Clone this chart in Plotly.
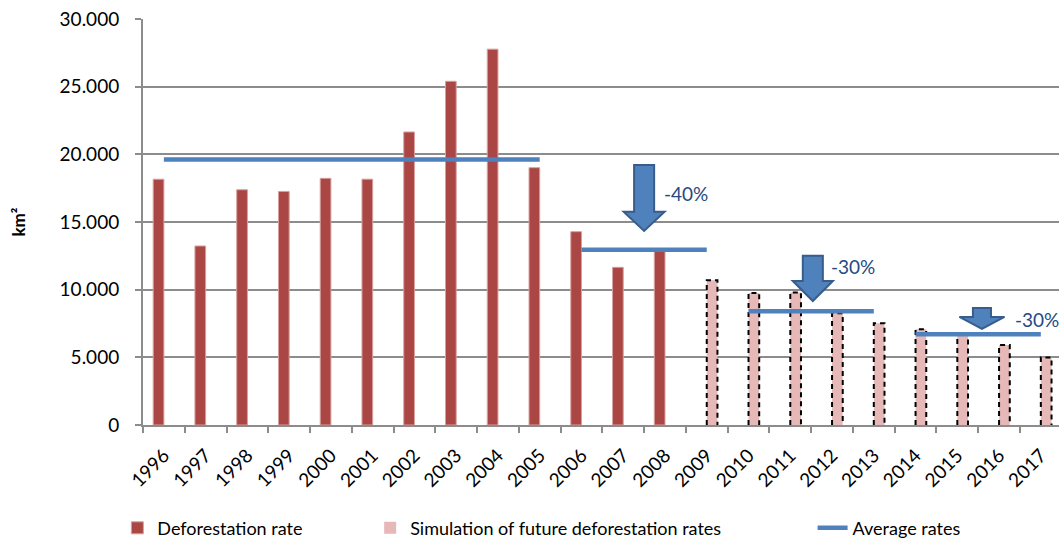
import plotly.graph_objects as go

# --- data (km2 per year) ---
years = list(range(1996, 2018))
observed_years = list(range(1996, 2009))
observed_km2 = [18161, 13227, 17383, 17259, 18226, 18165, 21651,
                25396, 27772, 19014, 14286, 11651, 12911]
sim_years = list(range(2009, 2018))
sim_km2 = [10700, 9760, 9790, 8250, 7520, 7070, 6750, 5910, 4980]

# average rate for each period
avg_start = [1996, 2006, 2010, 2014]
avg_end = [2005, 2009, 2013, 2017]
avg_km2 = [19625, 12950, 8400, 6700]

cut_labels = ['-40%', '-30%', '-30%']

FONT = 'Lato'
GRID = '#8C8C8C'
BW = 0.256  # bar width in years

# average segments, separated by gaps
avg_x, avg_y = [], []
for a, b, v in zip(avg_start, avg_end, avg_km2):
    avg_x += [a, b, None]
    avg_y += [v, v, None]

# dashed outline around the simulated bars
out_x, out_y = [], []
for yr, v in zip(sim_years, sim_km2):
    out_x += [yr, yr, yr + BW, yr + BW, None]
    out_y += [0, v, v, 0, None]

fig = go.Figure()
fig.add_trace(go.Bar(
    x=observed_years, y=observed_km2, width=BW, offset=-BW,
    name='Deforestation rate', legend='legend',
    marker=dict(color='#AA4643', line=dict(color='#D7A09E', width=1))))
fig.add_trace(go.Bar(
    x=sim_years, y=sim_km2, width=BW, offset=0,
    name='Simulation of future deforestation rates', legend='legend2',
    marker=dict(color='#E6B9B8', line=dict(width=0))))
fig.add_trace(go.Scatter(
    x=out_x, y=out_y, mode='lines', showlegend=False, hoverinfo='skip',
    cliponaxis=False,
    line=dict(color='black', width=2, dash='5px,4px')))
fig.add_trace(go.Scatter(
    x=avg_x, y=avg_y, mode='lines', name='Average rates', legend='legend3',
    cliponaxis=False,
    line=dict(color='#4F81BD', width=4.5)))

# block arrows: centre x, top, neck, tip, shaft half width, head half width
arrows = [
    (2007.50, 19214, 15763, 14337, 0.24, 0.49),
    (2011.54, 12511, 10642, 9164, 0.24, 0.48),
    (2015.59, 8646, 7981, 7094, 0.216, 0.54),
]
for xc, top, neck, tip, s, h in arrows:
    path = (f"M{xc - s},{top} L{xc + s},{top} L{xc + s},{neck} L{xc + h},{neck} "
            f"L{xc},{tip} L{xc - h},{neck} L{xc - s},{neck} Z")
    fig.add_shape(type='path', path=path, xref='x', yref='y',
                  fillcolor='#4F81BD', line=dict(color='#385D8A', width=2))

label_pos = [(2007.93, 17100), (2011.93, 11676), (2016.33, 7760)]
for txt, (lx, ly) in zip(cut_labels, label_pos):
    fig.add_annotation(x=lx, y=ly, text=txt, showarrow=False,
                       xanchor='left', yanchor='middle',
                       font=dict(family=FONT, size=19, color='#254A84'))

leg = dict(orientation='h', yanchor='middle', xanchor='left',
           font=dict(family=FONT, size=18, color='black'),
           bgcolor='rgba(0,0,0,0)')
fig.update_layout(
    width=1059, height=539,
    margin=dict(l=143, r=0, t=19, b=114, autoexpand=False),
    plot_bgcolor='white', paper_bgcolor='white',
    separators=',.',
    barmode='overlay',
    font=dict(family=FONT, color='black'),
    legend=dict(leg, x=-0.028, y=-0.254),
    legend2=dict(leg, x=0.248, y=-0.254),
    legend3=dict(leg, x=0.731, y=-0.254),
    xaxis=dict(range=[1995.5, 2017.435], tickvals=years,
               ticktext=[str(y) for y in years], tickangle=-45,
               ticks='', showgrid=False, zeroline=False, automargin=False,
               showline=True, linecolor=GRID, linewidth=2,
               ticklabelstandoff=10,
               tickfont=dict(family=FONT, size=19, color='black'),
               minor=dict(ticks='outside', tick0=1995.5, dtick=1,
                          ticklen=6, tickwidth=2, tickcolor=GRID,
                          showgrid=False)),
    yaxis=dict(range=[0, 30000], dtick=5000, tickformat=',',
               showgrid=True, gridcolor=GRID, gridwidth=1.5,
               zeroline=False, showline=True, linecolor=GRID, linewidth=2,
               ticks='outside', ticklen=6, tickwidth=2, tickcolor=GRID,
               ticklabelstandoff=12, automargin=False,
               tickfont=dict(family=FONT, size=19, color='black'),
               title=dict(text='<b>km²</b>', standoff=30,
                          font=dict(family=FONT, size=17, color='black'))),
)

# the page body has a default margin; remove it so the figure fills the window
fig.write_html("out.html", config={'displayModeBar': False},
               post_script="document.body.style.margin='0';")
